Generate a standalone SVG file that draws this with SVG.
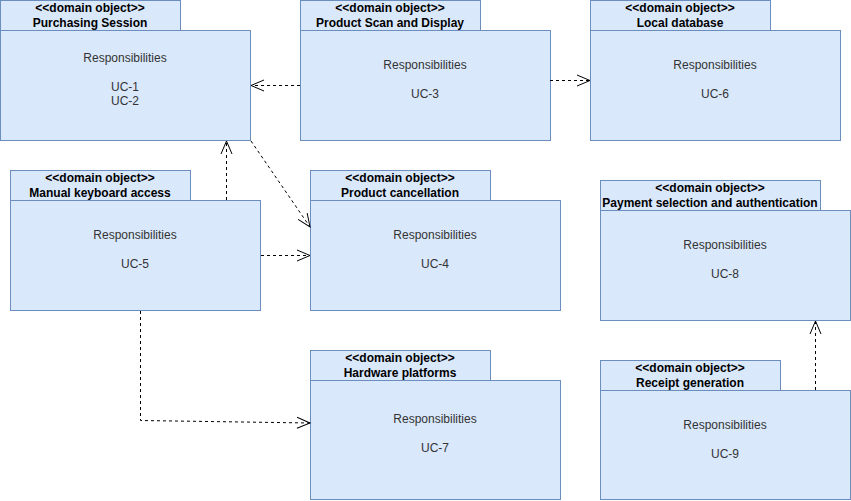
<svg xmlns="http://www.w3.org/2000/svg" width="851" height="501" viewBox="0 0 851 501">
<style>
.box{fill:#dae8fc;stroke:#6c8ebf;stroke-width:1}
.hd{font-family:"Liberation Sans",Arial,sans-serif;font-size:12px;font-weight:bold;fill:#000;text-anchor:middle}
.tx{font-family:"Liberation Sans",Arial,sans-serif;font-size:12px;fill:#333;text-anchor:middle}
.con{fill:none;stroke:#000;stroke-width:1;stroke-dasharray:3 3}
</style>
<defs>
<marker id="open" markerUnits="userSpaceOnUse" markerWidth="16" markerHeight="14" refX="14" refY="6.5" orient="auto" overflow="visible">
<path d="M1,1 L14,6.5 L1,12" fill="none" stroke="#000" stroke-width="1"/>
</marker>
</defs>
<rect width="851" height="501" fill="#fff"/>

<g id="purchasing-session">
<rect class="box" x="0.5" y="0.5" width="180" height="30"/>
<rect class="box" x="0.5" y="30.5" width="250" height="110"/>
<text class="hd" x="90" y="11.5">&lt;&lt;domain object&gt;&gt;</text>
<text class="hd" x="90" y="27">Purchasing Session</text>
<text class="tx" x="125" y="61.5">Responsibilities</text>
<text class="tx" x="125" y="90.5">UC-1</text>
<text class="tx" x="125" y="104.5">UC-2</text>
</g>

<g id="product-scan">
<rect class="box" x="300.5" y="0.5" width="180" height="30"/>
<rect class="box" x="300.5" y="30.5" width="250" height="110"/>
<text class="hd" x="390" y="11.5">&lt;&lt;domain object&gt;&gt;</text>
<text class="hd" x="390" y="27">Product Scan and Display</text>
<text class="tx" x="425" y="68.5">Responsibilities</text>
<text class="tx" x="425" y="97.5">UC-3</text>
</g>

<g id="local-database">
<rect class="box" x="590.5" y="0.5" width="180" height="30"/>
<rect class="box" x="590.5" y="30.5" width="250" height="110"/>
<text class="hd" x="680" y="11.5">&lt;&lt;domain object&gt;&gt;</text>
<text class="hd" x="680" y="27">Local database</text>
<text class="tx" x="715" y="68.5">Responsibilities</text>
<text class="tx" x="715" y="97.5">UC-6</text>
</g>

<g id="manual-keyboard">
<rect class="box" x="10.5" y="170.5" width="180" height="30"/>
<rect class="box" x="10.5" y="200.5" width="250" height="110"/>
<text class="hd" x="100" y="181.5">&lt;&lt;domain object&gt;&gt;</text>
<text class="hd" x="100" y="197">Manual keyboard access</text>
<text class="tx" x="135" y="238.5">Responsibilities</text>
<text class="tx" x="135" y="267.5">UC-5</text>
</g>

<g id="product-cancellation">
<rect class="box" x="310.5" y="170.5" width="180" height="30"/>
<rect class="box" x="310.5" y="200.5" width="250" height="110"/>
<text class="hd" x="400" y="181.5">&lt;&lt;domain object&gt;&gt;</text>
<text class="hd" x="400" y="197">Product cancellation</text>
<text class="tx" x="435" y="238.5">Responsibilities</text>
<text class="tx" x="435" y="267.5">UC-4</text>
</g>

<g id="payment-selection">
<rect class="box" x="600.5" y="180.5" width="220" height="30"/>
<rect class="box" x="600.5" y="210.5" width="250" height="110"/>
<text class="hd" x="710" y="191.5">&lt;&lt;domain object&gt;&gt;</text>
<text class="hd" x="710" y="207">Payment selection and authentication</text>
<text class="tx" x="725" y="248.5">Responsibilities</text>
<text class="tx" x="725" y="277.5">UC-8</text>
</g>

<g id="hardware-platforms">
<rect class="box" x="310.5" y="350.5" width="180" height="30"/>
<rect class="box" x="310.5" y="380.5" width="250" height="119"/>
<text class="hd" x="400" y="361.5">&lt;&lt;domain object&gt;&gt;</text>
<text class="hd" x="400" y="377">Hardware platforms</text>
<text class="tx" x="435" y="422.5">Responsibilities</text>
<text class="tx" x="435" y="451.5">UC-7</text>
</g>

<g id="receipt-generation">
<rect class="box" x="600.5" y="360.5" width="180" height="30"/>
<rect class="box" x="600.5" y="390.5" width="250" height="109"/>
<text class="hd" x="690" y="371.5">&lt;&lt;domain object&gt;&gt;</text>
<text class="hd" x="690" y="387">Receipt generation</text>
<text class="tx" x="725" y="428.5">Responsibilities</text>
<text class="tx" x="725" y="457.5">UC-9</text>
</g>

<g id="connectors">
<path class="con" d="M300,85.5 L251,85.5" marker-end="url(#open)"/>
<path class="con" d="M550,80.5 L590,80.5" marker-end="url(#open)"/>
<path class="con" d="M251,141 L310,227" marker-end="url(#open)"/>
<path class="con" d="M226.5,200 L226.5,141" marker-end="url(#open)"/>
<path class="con" d="M261,255.5 L310,255.5" marker-end="url(#open)"/>
<path class="con" d="M140.5,311 L140.5,420.5 L310,423" marker-end="url(#open)"/>
<path class="con" d="M815.5,390 L815.5,321" marker-end="url(#open)"/>
</g>
</svg>
